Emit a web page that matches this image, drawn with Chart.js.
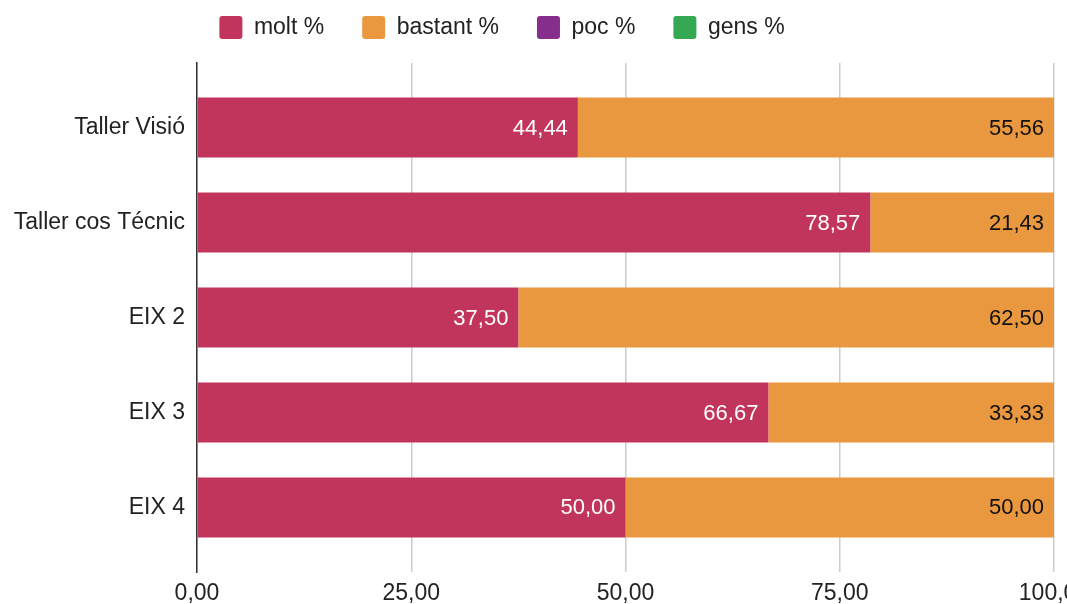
<!DOCTYPE html>
<html>
  <head>
    <title>Valoració tallers</title>
    <meta charset="utf-8" />
    <style>
      html, body { margin: 0; padding: 0; background: #fff; overflow: hidden; }
      #chart-container { width: 1110px; height: 604px; }
    </style>
  </head>
  <body>
    <div id="chart-container">
      <canvas id="tallers-chart" width="1110" height="604"></canvas>
    </div>

    <script src="https://cdn.jsdelivr.net/npm/chart.js"></script>
    <script>
      var categories = ["Taller Visió", "Taller cos Técnic", "EIX 2", "EIX 3", "EIX 4"];
      var moltValues = [44.44, 78.57, 37.5, 66.67, 50.0];
      var bastantValues = [55.56, 21.43, 62.5, 33.33, 50.0];
      var pocValues = [0, 0, 0, 0, 0];
      var gensValues = [0, 0, 0, 0, 0];
      var xTicks = [0, 25, 50, 75, 100];

      var fontFamily = "'Liberation Sans', Arial, sans-serif";

      function formatNumber(v) {
        return v.toFixed(2).replace(".", ",");
      }

      // value labels drawn inside the end of each bar
      var barLabels = {
        id: "barLabels",
        afterDatasetsDraw: function (chart) {
          var ctx = chart.ctx;
          ctx.save();
          ctx.font = "22px " + fontFamily;
          ctx.textAlign = "right";
          ctx.textBaseline = "middle";
          chart.data.datasets.forEach(function (ds, i) {
            var meta = chart.getDatasetMeta(i);
            meta.data.forEach(function (bar, j) {
              var v = ds.data[j];
              if (!v) return;
              ctx.fillStyle = ds.labelColor;
              ctx.fillText(formatNumber(v), bar.x - 10, bar.y + 1);
            });
          });
          ctx.restore();
        },
      };

      // fixed legend height so the plot starts where the original does,
      // and nudge the legend row up and to the left
      var legendPlace = {
        id: "legendPlace",
        beforeInit: function (chart) {
          var fit = chart.legend.fit;
          chart.legend.fit = function () {
            fit.call(this);
            this.height = 63;
          };
        },
        afterLayout: function (chart) {
          var lg = chart.legend;
          lg.left -= 25;
          lg.right -= 25;
          lg.top -= 22;
          lg.bottom -= 22;
        },
      };

      var chart = new Chart(document.getElementById("tallers-chart"), {
        type: "bar",
        data: {
          labels: categories,
          datasets: [
            { label: "molt %", data: moltValues, backgroundColor: "#c1355c", labelColor: "#ffffff" },
            { label: "bastant %", data: bastantValues, backgroundColor: "#ea9840", labelColor: "#111111" },
            { label: "poc %", data: pocValues, backgroundColor: "#852e8b", labelColor: "#ffffff" },
            { label: "gens %", data: gensValues, backgroundColor: "#34a853", labelColor: "#ffffff" },
          ],
        },
        options: {
          indexAxis: "y",
          responsive: false,
          animation: false,
          devicePixelRatio: 1,
          layout: { padding: { left: 0, right: 56, top: 0, bottom: 0 } },
          datasets: {
            bar: { categoryPercentage: 1, barPercentage: 0.632, borderWidth: 0 },
          },
          plugins: {
            tooltip: { enabled: false },
            legend: {
              position: "top",
              align: "center",
              labels: {
                boxWidth: 23,
                boxHeight: 23,
                useBorderRadius: true,
                borderRadius: 3,
                padding: 38,
                color: "#222",
                font: { family: fontFamily, size: 23 },
              },
            },
          },
          scales: {
            x: {
              stacked: true,
              min: 0,
              max: 100,
              afterBuildTicks: function (scale) {
                scale.ticks = xTicks.map(function (v) { return { value: v }; });
              },
              afterFit: function (scale) {
                scale.height = 32;
              },
              ticks: {
                color: "#222",
                padding: 8,
                maxRotation: 0,
                font: { family: fontFamily, size: 23 },
                callback: function (v) { return formatNumber(v); },
              },
              grid: { color: "#cccccc", lineWidth: 1.5, drawTicks: false },
              border: { display: false },
            },
            y: {
              stacked: true,
              afterBuildTicks: function (scale) {
                // a little extra room above the first and below the last bar
                scale._startValue = -0.5 - 0.18;
                scale._valueRange = categories.length + 0.36;
              },
              afterFit: function (scale) {
                scale.width = 197;
              },
              ticks: {
                color: "#222",
                padding: 12,
                font: { family: fontFamily, size: 23 },
              },
              grid: { display: false, drawTicks: false },
              border: { display: true, color: "#333", width: 1.5 },
            },
          },
        },
        plugins: [barLabels, legendPlace],
      });
    </script>
  </body>
</html>
